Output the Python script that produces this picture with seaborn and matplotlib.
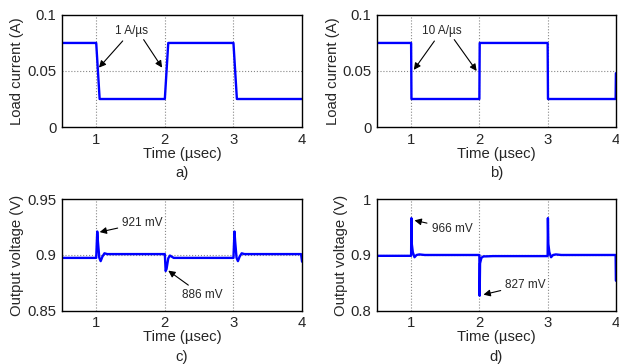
import numpy as np
import pandas as pd
import matplotlib
matplotlib.use("Agg")
import matplotlib.pyplot as plt
import seaborn as sns

# load current, 1 A/us slew (panel a)
t_cur_a = [0.5, 1.0, 1.05, 2.0, 2.05, 3.0, 3.05, 4.0]
i_cur_a = [0.075, 0.075, 0.025, 0.025, 0.075, 0.075, 0.025, 0.025]

# load current, 10 A/us slew (panel b)
t_cur_b = [0.5, 1.0, 1.005, 2.0, 2.005, 3.0, 3.005, 3.996, 4.0]
i_cur_b = [0.075, 0.075, 0.025, 0.025, 0.075, 0.075, 0.025, 0.025, 0.048]

# output voltage, panel c
t_v_c = [0.5, 1.0, 1.015, 1.025, 1.045, 1.065, 1.09, 1.12, 1.16, 1.22,
         2.0, 2.012, 2.025, 2.05, 2.075, 2.1, 2.13, 2.2,
         3.0, 3.015, 3.025, 3.045, 3.065, 3.09, 3.12, 3.16, 3.22, 3.985, 4.0]
v_c = [0.8974, 0.8974, 0.921, 0.912, 0.8975, 0.8945, 0.8985, 0.9015, 0.9008, 0.9008,
       0.9008, 0.8857, 0.8875, 0.897, 0.8995, 0.8985, 0.8974, 0.8974,
       0.8974, 0.921, 0.912, 0.8975, 0.8945, 0.8985, 0.9015, 0.9008, 0.9008, 0.9008, 0.894]

# output voltage, panel d
t_v_d = [0.5, 1.0, 1.004, 1.01, 1.025, 1.05, 1.08, 1.12, 1.2,
         2.0, 2.004, 2.01, 2.03, 2.06, 2.1, 2.2,
         3.0, 3.004, 3.01, 3.025, 3.05, 3.08, 3.12, 3.2, 3.996, 4.0]
v_d = [0.8985, 0.8985, 0.966, 0.92, 0.905, 0.896, 0.9, 0.901, 0.9,
       0.9, 0.827, 0.885, 0.895, 0.8975, 0.8975, 0.898,
       0.898, 0.966, 0.92, 0.905, 0.896, 0.9, 0.901, 0.9, 0.9, 0.854]

sns.set_style("white")
plt.rcParams['font.family'] = ['Liberation Sans', 'DejaVu Sans']

fig = plt.figure(figsize=(6.19, 3.64), dpi=100)
pos = {
    "a": [0.100, 0.651, 0.388, 0.308],
    "b": [0.609, 0.651, 0.386, 0.308],
    "c": [0.100, 0.146, 0.388, 0.307],
    "d": [0.609, 0.146, 0.386, 0.307],
}
panels = {
    "a": (t_cur_a, i_cur_a, (0, 0.1), [0, 0.05, 0.1], ["0", "0.05", "0.1"], "Load current (A)"),
    "b": (t_cur_b, i_cur_b, (0, 0.1), [0, 0.05, 0.1], ["0", "0.05", "0.1"], "Load current (A)"),
    "c": (t_v_c, v_c, (0.85, 0.95), [0.85, 0.9, 0.95], ["0.85", "0.9", "0.95"], "Output voltage (V)"),
    "d": (t_v_d, v_d, (0.8, 1.0), [0.8, 0.9, 1.0], ["0.8", "0.9", "1"], "Output voltage (V)"),
}

fs = 10.7
axes = {}
for key, (t, y, ylim, yt, ytl, ylab) in panels.items():
    ax = fig.add_axes(pos[key])
    df = pd.DataFrame({"t": t, "y": y})
    sns.lineplot(data=df, x="t", y="y", ax=ax, color="blue", lw=1.7,
                 estimator=None, sort=False)
    ax.set_xlim(0.5, 4)
    ax.set_ylim(*ylim)
    ax.set_xticks([1, 2, 3, 4])
    ax.set_xticklabels(["1", "2", "3", "4"])
    ax.set_yticks(yt)
    ax.set_yticklabels(ytl)
    ax.tick_params(labelsize=fs, length=0, pad=4)
    for xv in [1, 2, 3]:
        ax.axvline(xv, color="#888888", ls=":", lw=0.8, zorder=0)
    ax.axhline(yt[1], color="#888888", ls=":", lw=0.8, zorder=0)
    for s in ax.spines.values():
        s.set_color("black")
        s.set_linewidth(1.0)
    ax.set_xlabel("Time (\u00b5sec)", fontsize=fs, labelpad=0)
    ax.set_ylabel(ylab, fontsize=fs, labelpad=2)
    ax.text(0.5, -0.41, key + ")", transform=ax.transAxes, ha="center",
            va="center", fontsize=fs)
    axes[key] = ax

arrow = dict(arrowstyle="-|>", color="black", lw=0.8, mutation_scale=10,
             shrinkA=1, shrinkB=0)
af = 8.5
ax = axes["a"]
ax.annotate("1 A/\u00b5s", xy=(1.04, 0.053), xytext=(1.52, 0.086), fontsize=af,
            ha="center", va="center", arrowprops=arrow)
ax.annotate("", xy=(1.96, 0.053), xytext=(1.68, 0.079), arrowprops=arrow)
ax = axes["b"]
ax.annotate("10 A/\u00b5s", xy=(1.04, 0.051), xytext=(1.45, 0.086), fontsize=af,
            ha="center", va="center", arrowprops=arrow)
ax.annotate("", xy=(1.96, 0.05), xytext=(1.62, 0.079), arrowprops=arrow)
ax = axes["c"]
ax.annotate("921 mV", xy=(1.05, 0.9205), xytext=(1.38, 0.929), fontsize=af,
            ha="left", va="center", arrowprops=arrow)
ax.annotate("886 mV", xy=(2.05, 0.886), xytext=(2.25, 0.864), fontsize=af,
            ha="left", va="center", arrowprops=arrow)
ax = axes["d"]
ax.annotate("966 mV", xy=(1.05, 0.962), xytext=(1.3, 0.947), fontsize=af,
            ha="left", va="center", arrowprops=arrow)
ax.annotate("827 mV", xy=(2.06, 0.829), xytext=(2.38, 0.847), fontsize=af,
            ha="left", va="center", arrowprops=arrow)

fig.savefig("out.png", dpi=100)
